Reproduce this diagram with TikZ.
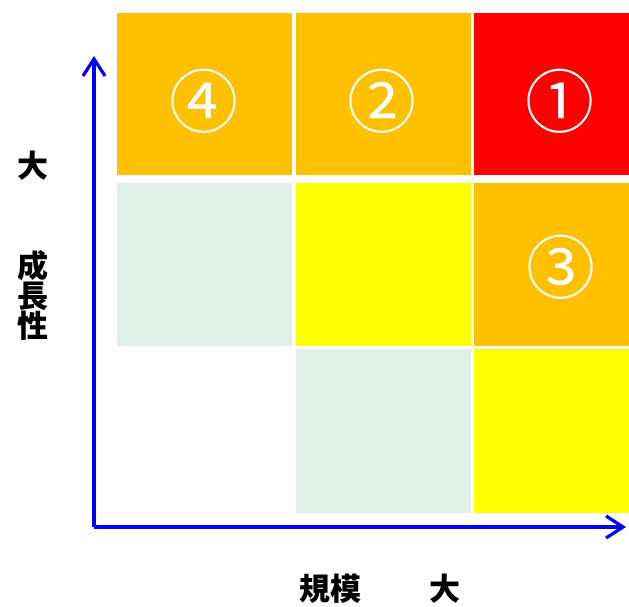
\documentclass[tikz,border=0pt]{standalone}
\usepackage{fontspec}
\newfontfamily\cjk{Noto Sans CJK JP}
\usetikzlibrary{arrows.meta}
\definecolor{cOrange}{HTML}{FFC000}
\definecolor{cRed}{HTML}{FF0000}
\definecolor{cYellow}{HTML}{FFFF00}
\definecolor{cGreen}{HTML}{DEF0E8}
\definecolor{cBlue}{HTML}{0000FF}
\tikzset{
  num/.style={text=white, font=\cjk\fontsize{69}{69}\selectfont, inner sep=0pt},
  lbl/.style={font=\cjk\bfseries\fontsize{31}{30}\selectfont, inner sep=0pt, align=center},
  axis/.style={draw=cBlue, line width=3.6pt, -{Straight Barb[length=17pt, width=22pt, line width=3.2pt]}}
}
\begin{document}
\begin{tikzpicture}[x=1pt,y=-1pt]
\useasboundingbox (0,0) rectangle (629,606);
% cells
\fill[cOrange] (117,13) rectangle (292,175);
\fill[cOrange] (296,13) rectangle (471,175);
\fill[cRed] (474,13) rectangle (629,175);
\fill[cGreen] (117,183) rectangle (292,346);
\fill[cYellow] (296,183) rectangle (471,346);
\fill[cOrange] (474,183) rectangle (629,346);
\fill[cGreen] (296,349) rectangle (471,513);
\fill[cYellow] (474,349) rectangle (629,513);
% numbers
\node[num] (n4) at (204,101) {④};
\node[num] (n2) at (382,101) {②};
\node[num] (n1) at (560,101) {①};
\node[num] (n3) at (561,267) {③};
% axes
\coordinate (o) at (94,527);
\coordinate (ytip) at (94,56);
\coordinate (xtip) at (626,527);
\draw[axis] (o) -- (ytip);
\draw[axis] (o) -- (xtip);
% labels
\node[lbl] (ybig) at (33,166) {大};
\node[lbl] (ylab) at (33,295) {成\\長\\性};
\node[lbl] (xlab) at (330,589) {規模};
\node[lbl] (xbig) at (445,589) {大};
\end{tikzpicture}
\end{document}
